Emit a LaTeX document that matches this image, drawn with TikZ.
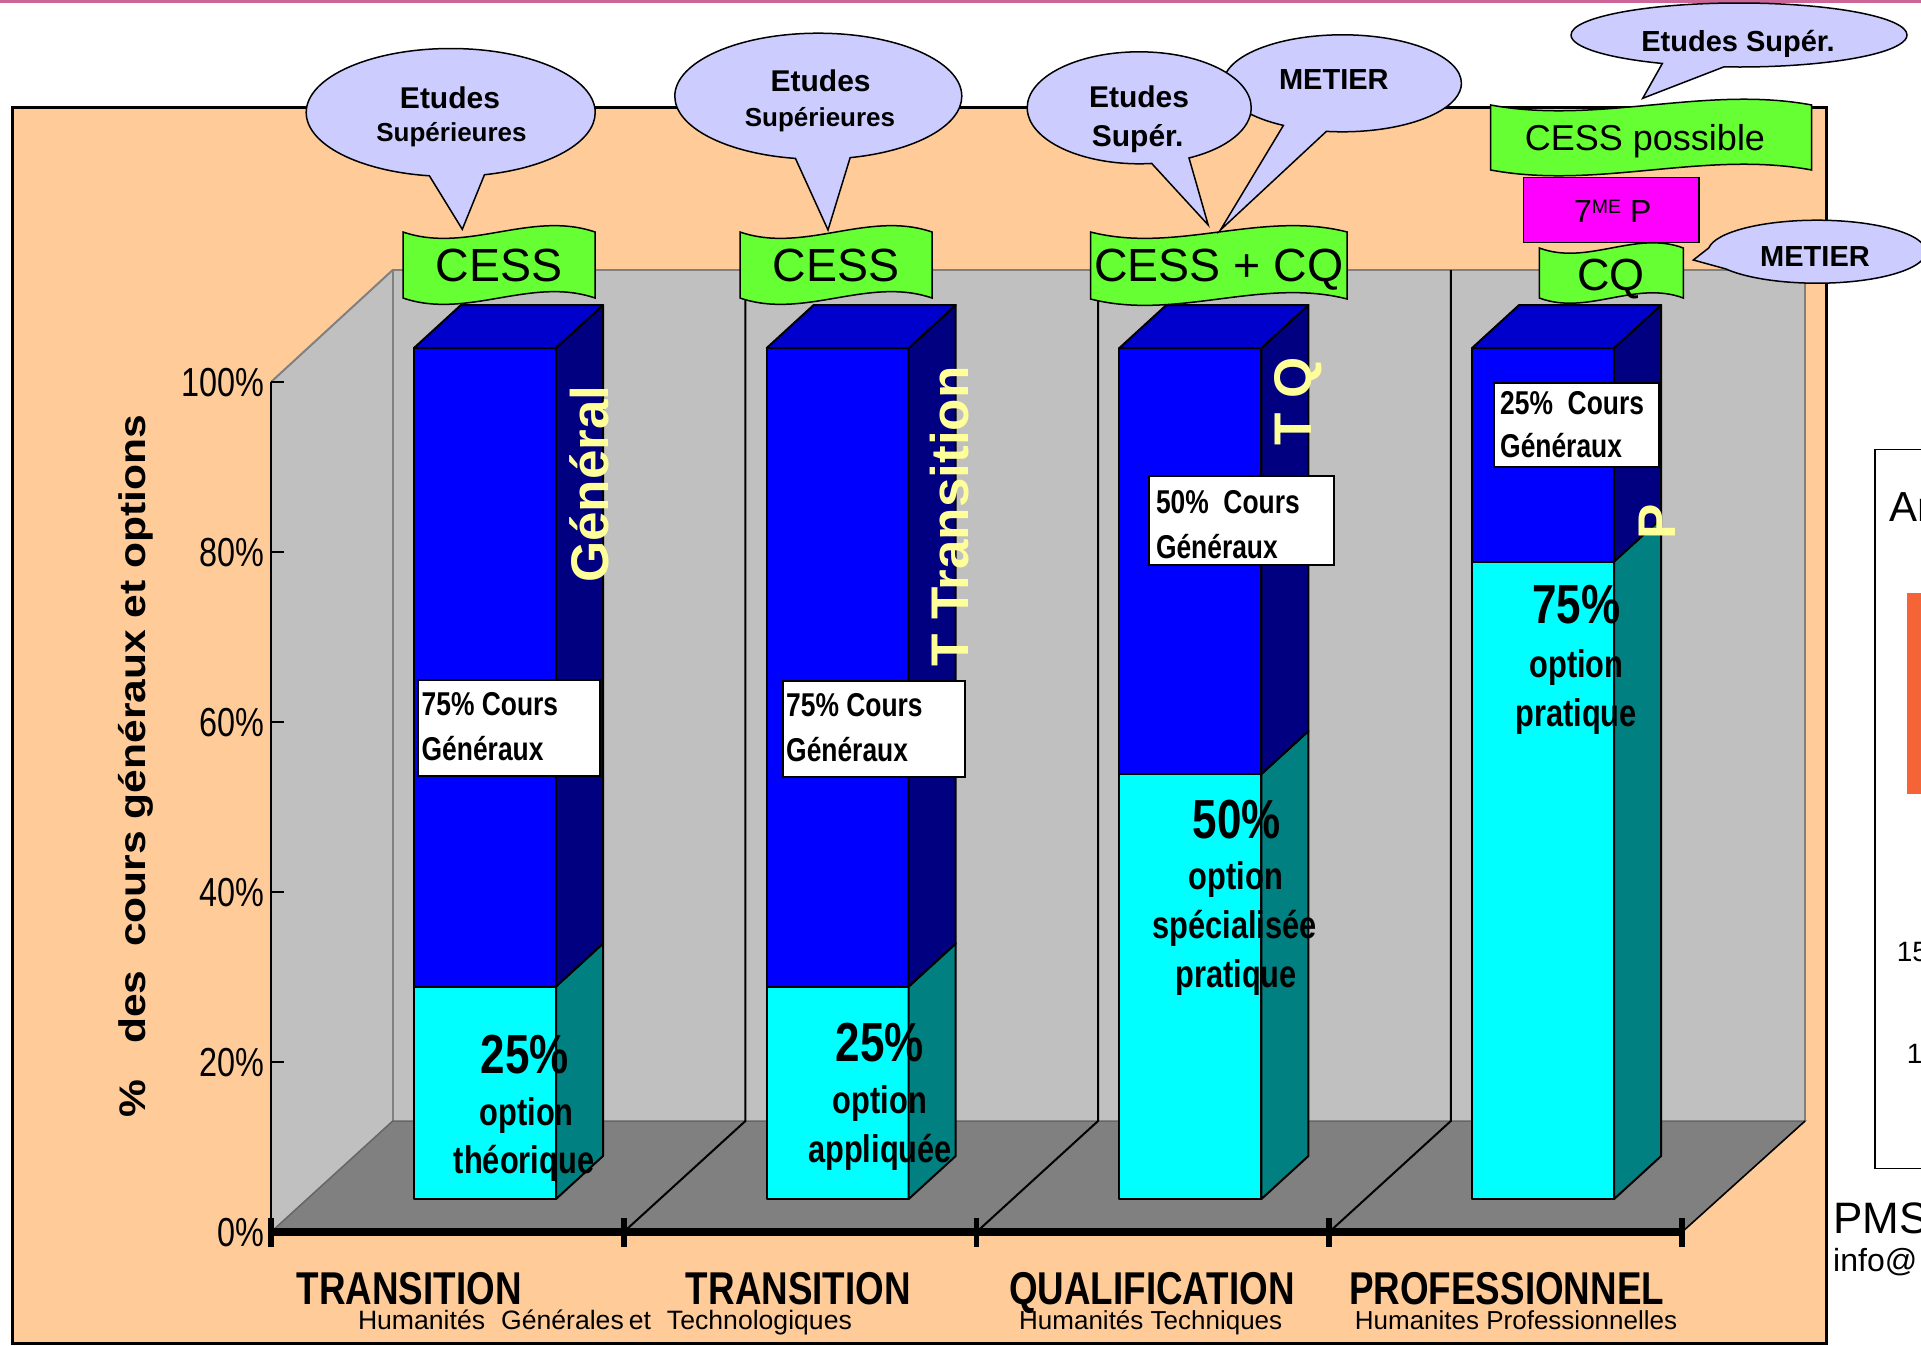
\documentclass[tikz,border=0pt]{standalone}
\usepackage{fontspec}
\setmainfont{Liberation Sans}
\newfontfamily\narrowfont[FakeStretch=0.8]{Liberation Sans}
\newfontfamily\widefont[FakeStretch=1.15]{Liberation Sans}
\usetikzlibrary{shapes.callouts}
\newcommand\setfs[1]{\fontsize{#1}{#1}\selectfont}
\definecolor{frameorange}{RGB}{255,204,153}
\definecolor{wallgray}{RGB}{192,192,192}
\definecolor{floorgray}{RGB}{128,128,128}
\definecolor{barblue}{RGB}{0,0,255}
\definecolor{barnavy}{RGB}{0,0,128}
\definecolor{bartop}{RGB}{0,0,204}
\definecolor{barcyan}{RGB}{0,255,255}
\definecolor{barteal}{RGB}{0,128,128}
\definecolor{bannergreen}{RGB}{102,255,51}
\definecolor{bubblelav}{RGB}{204,204,255}
\definecolor{labelyellow}{RGB}{255,255,153}
\definecolor{toppink}{RGB}{204,102,153}
\definecolor{panelorange}{RGB}{245,100,55}
\definecolor{magbox}{RGB}{255,0,255}
\newcommand\wavebanner[5]{% x0,x1,yt,yb,h
  \filldraw[bannerstyle] (#1,#3) .. controls ({#1+(#2-#1)/3},{#3+#5}) and ({#1+2*(#2-#1)/3},{#3-#5}) .. (#2,#3)
    -- (#2,#4) .. controls ({#1+2*(#2-#1)/3},{#4-#5}) and ({#1+(#2-#1)/3},{#4+#5}) .. (#1,#4) -- cycle;}
\begin{document}
\begin{tikzpicture}[x=1pt,y=-1pt,
  txt/.style={inner sep=0pt,anchor=base},
  txtw/.style={inner sep=0pt,anchor=base west},
  txte/.style={inner sep=0pt,anchor=base east},
  barline/.style={draw=black,line width=2pt,line join=round},
  bannerstyle/.style={fill=bannergreen,draw=black,line width=1.5pt},
  bubble/.style={ellipse callout,fill=bubblelav,draw=black,line width=1.5pt,inner sep=0pt},
  wbox/.style={fill=white,draw=black,line width=2pt,inner sep=0pt,anchor=north west},
  sidelabel/.style={inner sep=0pt,anchor=base,rotate=90,text=labelyellow,font=\bfseries\setfs{53}},
  ticklab/.style={txte,font=\narrowfont\setfs{40.5}},
  pctlab/.style={txt,font=\narrowfont\bfseries\setfs{55}},
  optlab/.style={txt,font=\narrowfont\bfseries\setfs{38.5}},
  boxlab/.style={txtw,font=\narrowfont\bfseries\setfs{33}},
  banlab/.style={txt,font=\setfs{46.5}},
  bubbig/.style={txt,font=\bfseries\setfs{30}},
  bubsmall/.style={txt,font=\bfseries\setfs{26}},
  catlab/.style={txt,font=\narrowfont\bfseries\setfs{46}},
  sublab/.style={txt,font=\setfs{26}}]
\useasboundingbox (0,0) rectangle (1921,1345);
\clip (0,0) rectangle (1921,1345);
\fill[white] (0,0) rectangle (1921,1345);
\fill[toppink] (0,0) rectangle (1921,2.5);
% right panel
\draw[fill=white,line width=1.5pt] (1875,449.3) rectangle (1930,1168.3);
\fill[panelorange] (1906.7,592.7) rectangle (1930,794);
\node[txtw,font=\setfs{42}] (an) at (1889.3,521.7) {An};
\node[txtw,font=\setfs{28}] (n15) at (1896.7,961.7) {15};
\node[txtw,font=\setfs{28}] (n1) at (1906.7,1063.3) {1};
\node[txtw,font=\setfs{44}] (pms) at (1833.3,1233.3) {PMS};
\node[txtw,font=\setfs{32}] (info) at (1833,1271.7) {info@};
% orange frame
\filldraw[fill=frameorange,draw=black,line width=3pt] (12,107.5) rectangle (1826,1343);
% chart walls
\fill[wallgray] (271,1232) -- (271,382) -- (392.7,270) -- (392.7,1121) -- cycle;
\filldraw[fill=wallgray,draw=floorgray,line width=2pt] (392.7,1121) -- (392.7,270) -- (1805,270) -- (1805,1121);
\draw[floorgray,line width=2pt] (271,382) -- (392.7,270);
\filldraw[fill=floorgray,draw=floorgray!80!black,line width=1.5pt] (271,1232) -- (392.7,1121) -- (1805,1121) -- (1682,1232) -- cycle;
\draw[black,line width=1.5pt] (1682,1232) -- (1805,1121);
\foreach \xb/\xf in {745.4/623.7,1098/976.5,1450.8/1329.2}{
  \draw[black,line width=2pt] (\xb,270) -- (\xb,1121) -- (\xf,1232);
}
% y axis
\draw[black,line width=2pt] (271,382) -- (271,1232);
\foreach \yy/\lab in {382/100,552/80,722/60,892/40,1062/20,1232/0}{
  \draw[black,line width=2pt] (271,\yy) -- (284,\yy);
  \node[ticklab] (tick\lab) at (265,\yy+14.5) {\lab\%};
}
\draw[black,line width=7.5pt] (271,1232) -- (1682,1232);
\foreach \xt in {271,623.7,976.5,1329.2,1682}{
  \draw[black,line width=5.7pt] (\xt,1218) -- (\xt,1247);
}
\node[inner sep=0pt,anchor=base,rotate=90,font=\widefont\bfseries\setfs{37}] (ytitle) at (145,766) {\%\ \ \ des\ \ cours généraux et options};
% bars
\foreach \L/\B in {414/986.5,766.7/986.5,1119.4/774,1472.1/561.5}{
  \pgfmathsetmacro\R{\L+142}
  \pgfmathsetmacro\RR{\L+189}
  \pgfmathsetmacro\LL{\L+47}
  \pgfmathsetmacro\BB{\B-43}
  \filldraw[barline,fill=barcyan] (\L,1199) rectangle (\R,\B);
  \filldraw[barline,fill=barblue] (\L,\B) rectangle (\R,348);
  \filldraw[barline,fill=barteal] (\R,1199) -- (\RR,1156) -- (\RR,\BB) -- (\R,\B) -- cycle;
  \filldraw[barline,fill=barnavy] (\R,\B) -- (\RR,\BB) -- (\RR,305) -- (\R,348) -- cycle;
  \filldraw[barline,fill=bartop] (\L,348) -- (\LL,305) -- (\RR,305) -- (\R,348) -- cycle;
}
% side labels
\node[sidelabel] (gen) at (608,484) {Général};
\node[sidelabel] (ttr) at (968,516.5) {T Transition};
\node[sidelabel] (tq) at (1311,401.7) {T Q};
\node[sidelabel] (pp) at (1675,522) {P};
% white boxes
\node[wbox,minimum width=182.4,minimum height=96] (box1) at (417,679) {};
\node[boxlab] (box1a) at (421.5,715.8) {75\% Cours};
\node[boxlab] (box1b) at (421.5,760.5) {Généraux};
\node[wbox,minimum width=182.6,minimum height=95.5] (box2) at (781.6,680) {};
\node[boxlab] (box2a) at (786,716.8) {75\% Cours};
\node[boxlab] (box2b) at (786,761.5) {Généraux};
\node[wbox,minimum width=184.4,minimum height=89.5] (box3) at (1148.2,474.7) {};
\node[boxlab] (box3a) at (1155.8,513.7) {50\%\ \ Cours};
\node[boxlab] (box3b) at (1155.8,558.5) {Généraux};
\node[wbox,minimum width=164.4,minimum height=84.3] (box4) at (1493.3,381.7) {};
\node[boxlab] (box4a) at (1500,414.3) {25\%\ \ Cours};
\node[boxlab] (box4b) at (1500,457.7) {Généraux};
% bar texts
\node[pctlab] (p1) at (524.8,1073.4) {25\%};
\node[optlab] (o1) at (526.7,1125) {option};
\node[optlab] (t1) at (524,1173.9) {théorique};
\node[pctlab] (p2) at (879.6,1061) {25\%};
\node[optlab] (o2) at (880,1113) {option};
\node[optlab] (t2) at (880,1162) {appliquée};
\node[pctlab] (p3) at (1236.6,838) {50\%};
\node[optlab] (o3) at (1236,889.7) {option};
\node[optlab] (s3) at (1234.6,938.5) {spécialisée};
\node[optlab] (t3) at (1236,987.3) {pratique};
\node[pctlab] (p4) at (1576.3,623.5) {75\%};
\node[optlab] (o4) at (1576.5,677) {option};
\node[optlab] (t4) at (1576,726.5) {pratique};
% banners
\wavebanner{403}{595}{232}{298}{22}
\node[banlab] (cess1) at (499,281.7) {CESS};
\wavebanner{740}{932}{232}{298}{22}
\node[banlab] (cess2) at (836,281.7) {CESS};
\wavebanner{1090.5}{1347.2}{232}{299}{22}
\node[banlab] (cess3) at (1219,281.7) {CESS + CQ};
\wavebanner{1539.3}{1683.3}{248}{298}{18}
\node[txt,font=\setfs{45}] (cq4) at (1611,290) {CQ};
\filldraw[fill=magbox,draw=black,line width=1.5pt] (1523.3,177.3) rectangle (1699,242.7);
\node[txt,font=\setfs{32}] (sept) at (1612.8,222.7) {7\raisebox{9.4pt}{\setfs{19.5}ME} P};
\wavebanner{1490.7}{1811.7}{105}{170}{20}
\node[txt,font=\setfs{36}] (cessp) at (1645,150) {CESS possible};
% bubbles
\node[bubble,minimum width=289,minimum height=128,callout absolute pointer={(462.3,229.3)},callout pointer arc=22] (bub1) at (450.7,112.5) {};
\node[bubbig] (bub1a) at (450,108.3) {Etudes};
\node[bubsmall] (bub1b) at (451.5,141.7) {Supérieures};
\node[bubble,minimum width=287,minimum height=126,callout absolute pointer={(828,230)},callout pointer arc=22] (bub2) at (818.3,96.2) {};
\node[bubbig] (bub2a) at (820.6,91.7) {Etudes};
\node[bubsmall] (bub2b) at (820,126) {Supérieures};
\node[bubble,minimum width=238,minimum height=97,callout absolute pointer={(1220.4,230)},callout pointer arc=22] (bub4) at (1342.4,83.3) {};
\node[bubbig,font=\bfseries\setfs{29}] (bub4a) at (1333.8,89.3) {METIER};
\node[bubble,minimum width=224,minimum height=112,callout absolute pointer={(1208.2,225)},callout pointer arc=20] (bub3) at (1139.2,107.8) {};
\node[bubbig] (bub3a) at (1139,107.3) {Etudes};
\node[bubbig] (bub3b) at (1137.7,146.7) {Supér.};
\node[bubble,minimum width=336,minimum height=64,callout absolute pointer={(1642.7,98.3)},callout pointer arc=22] (bub5) at (1739,35) {};
\node[txt,font=\bfseries\setfs{29}] (bub5a) at (1738,51.7) {Etudes Supér.};
\node[bubble,minimum width=218,minimum height=63,callout absolute pointer={(1693.3,260)},callout pointer arc=40] (bub6) at (1817,251.7) {};
\node[txt,font=\bfseries\setfs{29}] (bub6a) at (1815,266.7) {METIER};
% category labels
\node[catlab] (cat1) at (409.2,1304) {TRANSITION};
\node[catlab] (cat2) at (798.4,1304) {TRANSITION};
\node[catlab] (cat3) at (1151.8,1304) {QUALIFICATION};
\node[catlab] (cat4) at (1506.6,1304) {PROFESSIONNEL};
\node[txtw,font=\setfs{26.6}] (sub1) at (357.8,1329) {Humanités\hspace{16pt}Générales\hspace{5pt}et\hspace{16pt}Technologiques};
\node[sublab] (sub3) at (1150.7,1329) {Humanités Techniques};
\node[sublab] (sub4) at (1516,1329) {Humanites Professionnelles};
\end{tikzpicture}
\end{document}
